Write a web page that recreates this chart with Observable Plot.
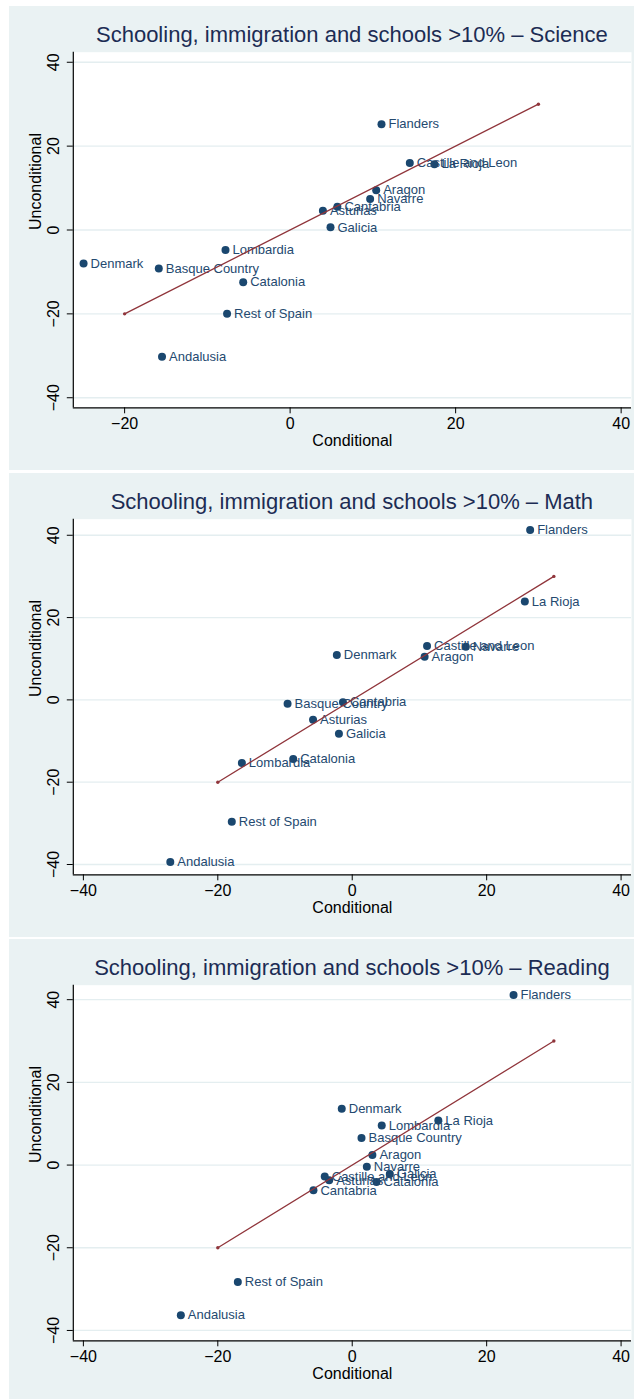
<!DOCTYPE html>
<html>
<head>
<meta charset="utf-8">
<script src="https://cdn.jsdelivr.net/npm/d3@7"></script>
<script src="https://cdn.jsdelivr.net/npm/@observablehq/plot@0.6"></script>
<style>
  html, body { margin: 0; padding: 0; background: #ffffff; }
  body { width: 634px; height: 1399px; position: relative; overflow: hidden; font-family: "Liberation Sans", Arial, sans-serif; }
  .panel { position: absolute; left: 9px; width: 625px; height: 464px; background: #eaf2f3; }
  .title { position: absolute; top: 15px; left: 63.8px; width: 558.2px; text-align: center; font-size: 22px; color: #1c2c54; white-space: nowrap; line-height: 28px; }
  .panel svg { position: absolute; left: 0; top: 39px; }
</style>
</head>
<body>
<script>
// ---- data ----
const regions = ["Flanders", "Castille and Leon", "La Rioja", "Aragon", "Navarre", "Cantabria", "Asturias", "Galicia", "Lombardia", "Denmark", "Basque Country", "Catalonia", "Rest of Spain", "Andalusia"];

const scienceX = [11.04, 14.46, 17.44, 10.4, 9.67, 5.71, 3.96, 4.88, -7.81, -24.96, -15.87, -5.67, -7.62, -15.48];
const scienceY = [25.2, 15.95, 15.7, 9.5, 7.4, 5.56, 4.6, 0.63, -4.76, -8.0, -9.2, -12.46, -20.0, -30.2];

const mathX = [26.47, 11.13, 25.68, 10.77, 16.9, -1.38, -5.83, -1.98, -16.42, -2.29, -9.62, -8.78, -17.92, -27.07];
const mathY = [41.3, 13.07, 23.9, 10.5, 12.9, -0.56, -4.84, -8.23, -15.33, 10.9, -0.97, -14.37, -29.6, -39.4];

const readingX = [24.0, -4.09, 12.81, 3.0, 2.17, -5.77, -3.43, 5.59, 4.39, -1.56, 1.38, 3.61, -17.02, -25.5];
const readingY = [41.1, -2.74, 10.8, 2.41, -0.4, -6.12, -3.7, -2.17, 9.58, 13.6, 6.52, -4.1, -28.3, -36.3];

const fitX = [-20, 30];
const fitY = [-20, 30];

const titles = [
  "Schooling, immigration and schools >10% \u2013 Science",
  "Schooling, immigration and schools >10% \u2013 Math",
  "Schooling, immigration and schools >10% \u2013 Reading"
];
const xTicksSci = [-20, 0, 20, 40];
const xTicksOther = [-40, -20, 0, 20, 40];
const yTicks = [-40, -20, 0, 20, 40];
const xDomains = [[-26.2, 41.25], [-41.5, 41.55], [-41.5, 41.55]];
const yDomains = [[-42.4, 42.4], [-42.5, 43.9], [-42.5, 43.5]];

const navy = "#1a476f";
const red = "#90353b";

function makePanel(i, xs, ys, xTicks) {
  const data = regions.map((r, k) => ({region: r, x: xs[k], y: ys[k]}));
  const fit = fitX.map((x, k) => ({x, y: fitY[k]}));
  const xDomain = xDomains[i], yDomain = yDomains[i];

  const div = document.createElement("div");
  div.className = "panel";
  div.style.top = (6 + i * 466.7) + "px";
  const t = document.createElement("div");
  t.className = "title";
  t.textContent = titles[i];
  div.appendChild(t);

  const svg = Plot.plot({
    width: 625,
    height: 425,
    marginTop: 6.7,
    marginBottom: 62.7,
    marginLeft: 63.8,
    marginRight: 3,
    x: {domain: xDomain, label: null},
    y: {domain: yDomain, label: null},
    style: {background: "transparent", fontFamily: "'Liberation Sans', Arial, sans-serif", overflow: "visible"},
    marks: [
      Plot.frame({fill: "white", stroke: null}),
      Plot.gridY(yTicks, {stroke: "#e4eef0", strokeOpacity: 1, strokeWidth: 1.3}),
      Plot.dot(data, {x: "x", y: "y", r: 4, fill: navy, stroke: null}),
      Plot.text(data, {x: "x", y: "y", text: "region", dx: 7, textAnchor: "start", fill: "#24496f", fontSize: 13}),
      Plot.line(fit, {x: "x", y: "y", stroke: red, strokeWidth: 1.3}),
      Plot.dot(fit, {x: "x", y: "y", r: 1.7, fill: red, stroke: null}),
      Plot.ruleX([xDomain[0]], {stroke: "#000", strokeWidth: 1.2}),
      Plot.ruleY([yDomain[0]], {stroke: "#000", strokeWidth: 1.2}),
      Plot.axisX(xTicks, {tickSize: 6, tickPadding: 4, fontSize: 16, fill: "#000", stroke: "#000", label: null}),
      Plot.axisY(yTicks, {tickSize: 6, tickPadding: 8, tickRotate: -90, fontSize: 16, fill: "#000", stroke: "#000", label: null}),
      Plot.text(["Conditional"], {frameAnchor: "bottom", dy: 33.4, fontSize: 16, fill: "#000", lineAnchor: "middle"}),
      Plot.text(["Unconditional"], {frameAnchor: "left", dx: -37.8, rotate: -90, fontSize: 16, fill: "#000", lineAnchor: "middle"})
    ]
  });
  div.appendChild(svg);
  document.body.appendChild(div);
}

makePanel(0, scienceX, scienceY, xTicksSci);
makePanel(1, mathX, mathY, xTicksOther);
makePanel(2, readingX, readingY, xTicksOther);
</script>
</body>
</html>
